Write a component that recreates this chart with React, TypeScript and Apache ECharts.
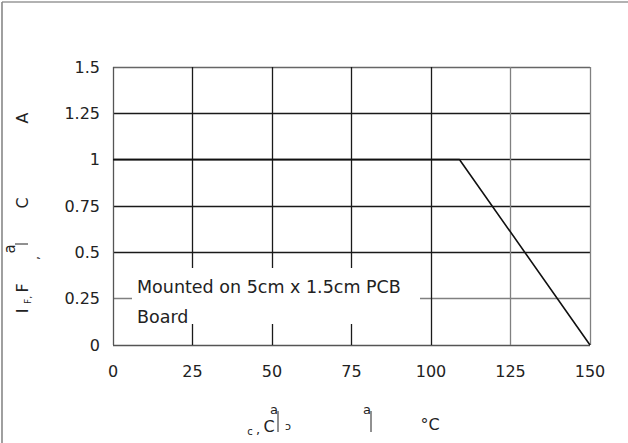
import React, { useEffect, useRef } from "react";
import * as echarts from "echarts";

const xTicks = [0, 25, 50, 75, 100, 125, 150];
const yTicks = [0, 0.25, 0.5, 0.75, 1, 1.25, 1.5];
const tempC = [0, 109, 150];
const currentA = [1, 1, 0];
const noteLines = ["Mounted on 5cm x 1.5cm PCB", "Board"];

const FONT = "DejaVu Sans";
const INK = "#222";

export default function App() {
  const ref = useRef<HTMLDivElement>(null);
  useEffect(() => {
    if (!ref.current) return;
    const chart = echarts.init(ref.current, null, { renderer: "svg" });
    const txt = (s: string, x: number, y: number, size: number, rot = 0) => ({
      type: "text",
      x,
      y,
      rotation: rot,
      z: 100,
      style: {
        text: s,
        font: `${size}px "${FONT}"`,
        fill: INK,
        textAlign: "center",
        textVerticalAlign: "middle",
      },
    });
    const R = Math.PI / 2;
    chart.setOption({
      animation: false,
      backgroundColor: "#fff",
      grid: { left: 113, top: 67, width: 477, height: 278, containLabel: false },
      xAxis: {
        type: "value",
        min: 0,
        max: 150,
        interval: 25,
        axisLine: { show: false },
        axisTick: { show: false },
        axisLabel: {
          margin: 18,
          fontFamily: FONT,
          fontSize: 16,
          color: INK,
          formatter: (v: number) => (xTicks.includes(v) ? String(v) : ""),
        },
        splitLine: {
          show: true,
          lineStyle: {
            width: 1.3,
            color: ["#555", "#1a1a1a", "#1a1a1a", "#1a1a1a", "#1a1a1a", "#808080", "#808080"],
          },
        },
      },
      yAxis: {
        type: "value",
        min: 0,
        max: 1.5,
        interval: 0.25,
        axisLine: { show: false },
        axisTick: { show: false },
        axisLabel: {
          margin: 13,
          fontFamily: FONT,
          fontSize: 16,
          color: INK,
          formatter: (v: number) => {
            const t = yTicks.find((k) => Math.abs(k - v) < 1e-9);
            return t === undefined ? "" : String(t);
          },
        },
        splitLine: {
          show: true,
          lineStyle: {
            width: 1.3,
            color: ["#555", "#808080", "#1a1a1a", "#1a1a1a", "#1a1a1a", "#1a1a1a", "#666"],
          },
        },
      },
      series: [
        {
          type: "line",
          data: tempC.map((t, i) => [t, currentA[i]]),
          symbol: "none",
          lineStyle: { color: "#111", width: 1.6 },
          z: 3,
        },
      ],
      graphic: [
        {
          type: "line",
          z: 100,
          shape: { x1: 2, y1: 2, x2: 628, y2: 2 },
          style: { stroke: "#999", lineWidth: 1.6 },
        },
        {
          type: "line",
          z: 100,
          shape: { x1: 2, y1: 2, x2: 2, y2: 443 },
          style: { stroke: "#888", lineWidth: 1.6 },
        },
        {
          type: "rect",
          z: 90,
          shape: { x: 132, y: 268, width: 288, height: 56 },
          style: { fill: "#fff" },
        },
        {
          type: "text",
          x: 137,
          y: 287,
          z: 100,
          style: {
            text: noteLines[0],
            font: `17.5px "${FONT}"`,
            fill: INK,
            textAlign: "left",
            textVerticalAlign: "middle",
          },
        },
        {
          type: "text",
          x: 137,
          y: 317,
          z: 100,
          style: {
            text: noteLines[1],
            font: `17.5px "${FONT}"`,
            fill: INK,
            textAlign: "left",
            textVerticalAlign: "middle",
          },
        },
        // y-axis title (garbled glyphs as in the reference)
        txt("I", 22, 311, 16, R),
        txt("F,", 28, 300, 9, R),
        txt("F", 22, 288, 16, R),
        txt(",", 34, 258, 13, R),
        txt("a", 10, 249, 15, R),
        {
          type: "line",
          z: 100,
          shape: { x1: 15, y1: 244, x2: 28, y2: 244 },
          style: { stroke: INK, lineWidth: 1 },
        },
        txt("C", 22, 203, 16, R),
        txt("A", 22, 118, 16, R),
        // x-axis title (garbled glyphs as in the reference)
        txt("c", 250, 431, 10),
        txt(",", 258, 429, 13),
        txt("C", 269, 426, 16),
        txt("a", 274, 409, 13),
        {
          type: "line",
          z: 100,
          shape: { x1: 278, y1: 411, x2: 278, y2: 432 },
          style: { stroke: INK, lineWidth: 1 },
        },
        txt("ɔ", 288, 426, 11),
        txt("a", 367, 409, 13),
        {
          type: "line",
          z: 100,
          shape: { x1: 371, y1: 411, x2: 371, y2: 432 },
          style: { stroke: INK, lineWidth: 1 },
        },
        txt("°C", 430, 424, 16),
      ],
    });
    return () => chart.dispose();
  }, []);
  return (
    <div
      ref={ref}
      style={{ position: "fixed", left: 0, top: 0, width: 628, height: 443, background: "#fff" }}
    />
  );
}
